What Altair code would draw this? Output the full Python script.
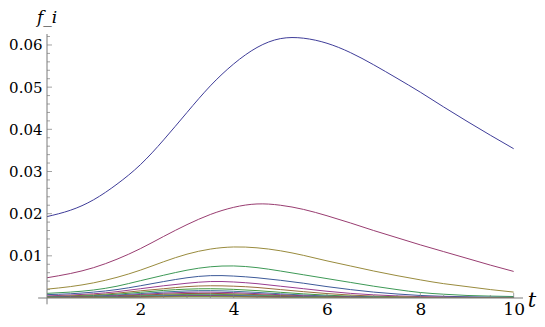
import altair as alt
import pandas as pd

# time grid
t_grid = [0, 0.5, 1, 1.5, 2, 2.5, 3, 3.5, 4, 4.5, 5, 5.5, 6, 6.5, 7, 7.5, 8, 8.5, 9, 9.5, 10]

# series values (units of 1e-3)
f1 = [19.3, 20.8, 23.3, 27.0, 31.6, 37.5, 44.0, 50.3, 55.5, 59.4, 61.5, 61.6, 60.4, 58.2, 55.3, 52.1, 48.8, 45.3, 41.9, 38.6, 35.4]
f2 = [4.8, 5.8, 7.2, 9.2, 11.7, 14.6, 17.4, 19.8, 21.5, 22.3, 22.0, 21.0, 19.5, 17.8, 16.0, 14.3, 12.6, 11.0, 9.4, 7.8, 6.3]
f3 = [2.1, 2.7, 3.6, 4.9, 6.6, 8.6, 10.4, 11.6, 12.1, 11.9, 11.2, 10.1, 8.8, 7.6, 6.4, 5.3, 4.3, 3.4, 2.7, 2.0, 1.4]
f4 = [1.1, 1.4, 1.9, 2.8, 4.1, 5.4, 6.6, 7.4, 7.6, 7.2, 6.4, 5.5, 4.6, 3.7, 2.8, 2.0, 1.3, 0.9, 0.6, 0.45, 0.35]
f5 = [0.8, 1.0, 1.4, 2.0, 2.9, 3.9, 4.8, 5.3, 5.2, 4.8, 4.2, 3.5, 2.7, 2.0, 1.4, 0.95, 0.6, 0.4, 0.3, 0.2, 0.15]
f6 = [0.5, 0.7, 1.0, 1.5, 2.2, 2.9, 3.5, 3.9, 3.8, 3.4, 2.8, 2.2, 1.6, 1.1, 0.75, 0.5, 0.33, 0.22, 0.15, 0.1, 0.07]
f7 = [0.35, 0.5, 0.75, 1.15, 1.7, 2.2, 2.7, 2.9, 2.8, 2.5, 2.0, 1.5, 1.05, 0.7, 0.45, 0.3, 0.2, 0.13, 0.09, 0.06, 0.04]
f8 = [0.25, 0.38, 0.58, 0.9, 1.35, 1.8, 2.1, 2.2, 2.05, 1.75, 1.35, 0.98, 0.66, 0.43, 0.28, 0.18, 0.12, 0.08, 0.05, 0.03, 0.02]
f9 = [0.18, 0.28, 0.44, 0.7, 1.05, 1.42, 1.68, 1.75, 1.6, 1.33, 1.0, 0.7, 0.46, 0.3, 0.19, 0.12, 0.08, 0.05, 0.03, 0.02, 0.01]
f10 = [0.13, 0.21, 0.34, 0.55, 0.84, 1.14, 1.35, 1.4, 1.27, 1.04, 0.77, 0.53, 0.35, 0.22, 0.14, 0.09, 0.06, 0.04, 0.02, 0.015, 0.01]
f11 = [0.1, 0.16, 0.26, 0.43, 0.66, 0.9, 1.06, 1.1, 0.99, 0.8, 0.59, 0.4, 0.26, 0.16, 0.1, 0.06, 0.04, 0.025, 0.015, 0.01, 0.007]
f12 = [0.07, 0.12, 0.2, 0.33, 0.52, 0.71, 0.85, 0.88, 0.79, 0.63, 0.46, 0.31, 0.2, 0.12, 0.07, 0.045, 0.03, 0.02, 0.01, 0.007, 0.005]
f13 = [0.05, 0.09, 0.15, 0.26, 0.41, 0.56, 0.67, 0.7, 0.62, 0.5, 0.36, 0.24, 0.15, 0.09, 0.055, 0.035, 0.02, 0.013, 0.008, 0.005, 0.003]
f14 = [0.04, 0.07, 0.12, 0.2, 0.32, 0.44, 0.53, 0.55, 0.49, 0.39, 0.28, 0.19, 0.12, 0.07, 0.04, 0.025, 0.015, 0.01, 0.006, 0.004, 0.002]
f15 = [0.03, 0.05, 0.09, 0.16, 0.25, 0.35, 0.42, 0.43, 0.38, 0.3, 0.22, 0.15, 0.09, 0.055, 0.03, 0.02, 0.012, 0.007, 0.004, 0.003, 0.002]
f16 = [0.02, 0.04, 0.07, 0.12, 0.2, 0.27, 0.33, 0.34, 0.3, 0.24, 0.17, 0.11, 0.07, 0.04, 0.025, 0.015, 0.009, 0.005, 0.003, 0.002, 0.001]

series = [f1, f2, f3, f4, f5, f6, f7, f8, f9, f10, f11, f12, f13, f14, f15, f16]
names = [f"f{i+1:02d}" for i in range(len(series))]

colors = ["#3F3D99", "#993D71", "#998B3D", "#3D9956", "#3D5A99", "#993D90",
          "#996D3D", "#43993D", "#3D7999", "#843D99", "#994E3D", "#62993D",
          "#3D9899", "#653D99", "#993D4B", "#81993D"]

x_major = [2, 4, 6, 8, 10]
x_minor = [0.5, 1, 1.5, 2.5, 3, 3.5, 4.5, 5, 5.5, 6.5, 7, 7.5, 8.5, 9, 9.5]
y_major = [0.01, 0.02, 0.03, 0.04, 0.05, 0.06]
y_minor = [0.002, 0.004, 0.006, 0.008, 0.012, 0.014, 0.016, 0.018, 0.022, 0.024,
           0.026, 0.028, 0.032, 0.034, 0.036, 0.038, 0.042, 0.044, 0.046, 0.048,
           0.052, 0.054, 0.056, 0.058, 0.062]

rows = []
for n, vals in zip(names, series):
    for t, v in zip(t_grid, vals):
        rows.append({"t": t, "f": v / 1000.0, "s": n})
df = pd.DataFrame(rows)

XD = [0, 10.2]
YD = [0, 0.0626]
FONT = "DejaVu Serif"
AX = "#7a7a7a"

xs = alt.Scale(domain=XD, nice=False, zero=False)
ys = alt.Scale(domain=YD, nice=False, zero=False)

lines = alt.Chart(df).mark_line(strokeWidth=1, interpolate="natural", clip=True).encode(
    x=alt.X("t:Q", scale=xs,
            axis=alt.Axis(values=x_major, title=None, domain=False, ticks=False, grid=False,
                          labelFont=FONT, labelFontSize=17, labelColor="black",
                          labelPadding=3, labelFlush=False, format="d")),
    y=alt.Y("f:Q", scale=ys,
            axis=alt.Axis(values=y_major, title=None, domain=False, ticks=False, grid=False,
                          labelFont=FONT, labelFontSize=15, labelColor="black",
                          labelPadding=5, format=".2f")),
    color=alt.Color("s:N", scale=alt.Scale(domain=names, range=colors), legend=None),
    order=alt.Order("s:N"),
)

# axis lines (Mathematica-style, crossing at origin, slightly extended)
xaxis_line = alt.Chart(pd.DataFrame({"a": [-0.19], "b": [10.2], "y": [0.0]})).mark_rule(
    color=AX, strokeWidth=1).encode(x=alt.X("a:Q", scale=xs), x2="b:Q", y=alt.Y("y:Q", scale=ys))
yaxis_line = alt.Chart(pd.DataFrame({"a": [-0.0015], "b": [0.0626], "x": [0.0]})).mark_rule(
    color=AX, strokeWidth=1).encode(y=alt.Y("a:Q", scale=ys), y2="b:Q", x=alt.X("x:Q", scale=xs))

# inward ticks
xt_major = alt.Chart(pd.DataFrame({"t": x_major, "y": [0.0] * len(x_major)})).mark_tick(
    orient="vertical", size=5, thickness=1, color=AX, yOffset=-2.5).encode(
    x=alt.X("t:Q", scale=xs), y=alt.Y("y:Q", scale=ys))
xt_minor = alt.Chart(pd.DataFrame({"t": x_minor, "y": [0.0] * len(x_minor)})).mark_tick(
    orient="vertical", size=3, thickness=1, color=AX, yOffset=-1.5).encode(
    x=alt.X("t:Q", scale=xs), y=alt.Y("y:Q", scale=ys))
yt_major = alt.Chart(pd.DataFrame({"v": y_major, "x": [0.0] * len(y_major)})).mark_tick(
    orient="horizontal", size=5, thickness=1, color=AX, xOffset=2.5).encode(
    y=alt.Y("v:Q", scale=ys), x=alt.X("x:Q", scale=xs))
yt_minor = alt.Chart(pd.DataFrame({"v": y_minor, "x": [0.0] * len(y_minor)})).mark_tick(
    orient="horizontal", size=3, thickness=1, color=AX, xOffset=1.5).encode(
    y=alt.Y("v:Q", scale=ys), x=alt.X("x:Q", scale=xs))

# axis labels
ylab = alt.Chart(pd.DataFrame({"x": [0.0], "y": [0.0626], "txt": ["f_i"]})).mark_text(
    font=FONT, fontSize=17, fontStyle="italic", color="black", align="center",
    baseline="alphabetic", dy=-11).encode(
    x=alt.X("x:Q", scale=xs), y=alt.Y("y:Q", scale=ys), text="txt:N")
xlab = alt.Chart(pd.DataFrame({"x": [10.2], "y": [0.0], "txt": ["t"]})).mark_text(
    font=FONT, fontSize=21, fontStyle="italic", color="black", align="center",
    baseline="alphabetic", dx=9, dy=9).encode(
    x=alt.X("x:Q", scale=xs), y=alt.Y("y:Q", scale=ys), text="txt:N")

chart = alt.layer(lines, xaxis_line, yaxis_line, xt_major, xt_minor, yt_major, yt_minor,
                  ylab, xlab).properties(
    width=476, height=264,
    autosize=alt.AutoSizeParams(type="none"),
    padding={"left": 39, "top": 26, "right": 14, "bottom": 21},
    background="white",
).configure_view(stroke=None)

chart.save("out.html", embed_options={"renderer": "svg", "actions": False})
